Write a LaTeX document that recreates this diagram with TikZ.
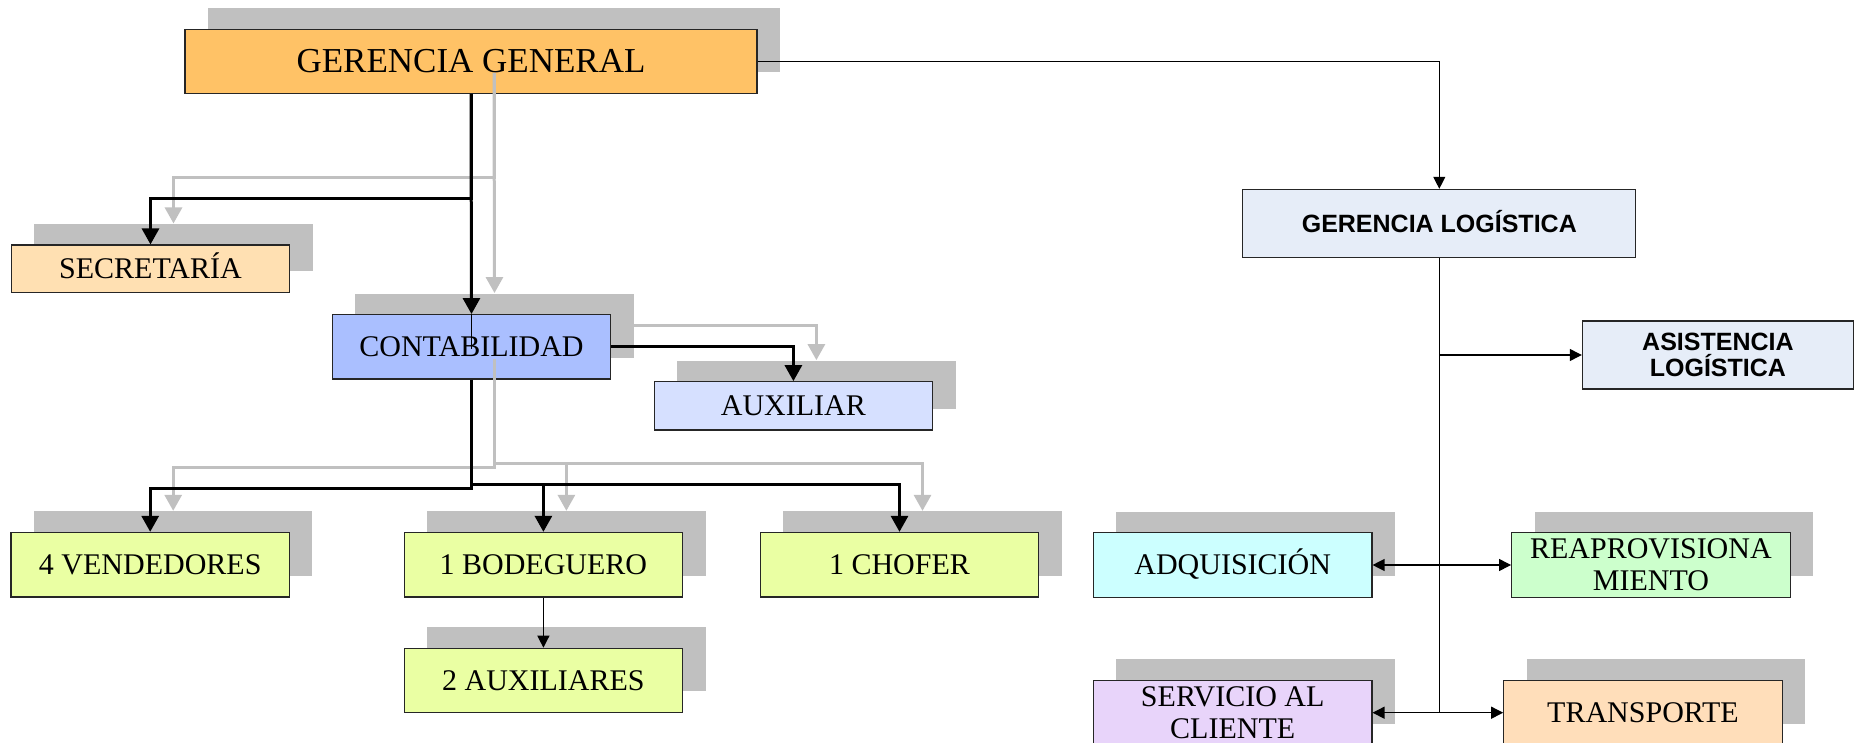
\documentclass[tikz,border=0pt]{standalone}
\usepackage{fontspec}
\setmainfont{Liberation Serif}
\setsansfont{Liberation Sans}
\usetikzlibrary{arrows.meta,shadows,calc}

\definecolor{ggfill}{RGB}{255,194,102}
\definecolor{secfill}{RGB}{255,224,178}
\definecolor{confill}{RGB}{170,191,255}
\definecolor{auxfill}{RGB}{214,224,255}
\definecolor{staffill}{RGB}{234,255,163}
\definecolor{logfill}{RGB}{230,237,248}
\definecolor{adqfill}{RGB}{204,255,255}
\definecolor{reafill}{RGB}{204,255,204}
\definecolor{serfill}{RGB}{232,212,250}
\definecolor{trafill}{RGB}{255,222,186}
\definecolor{shade}{RGB}{192,192,192}

\begin{document}
\begin{tikzpicture}[x=1pt,y=-1pt,
  unit/.style={draw=black!85, line width=1.2pt, inner sep=0pt,
    minimum width=278.5pt, minimum height=64.5pt, align=center,
    font=\fontsize{30}{32}\selectfont},
  oneline/.style={text height=19.9pt, text depth=0pt},
  shadowed/.style={general shadow={fill=shade, shadow xshift=23pt, shadow yshift=21pt}},
  logbox/.style={unit, fill=logfill, minimum height=68pt,
    font=\fontsize{25}{26.5}\selectfont\sffamily\bfseries},
  thickline/.style={line width=3pt, -{Triangle[length=16pt,width=17pt]}},
  shadowline/.style={line width=3pt, draw=shade, -{Triangle[length=16pt,width=17pt,fill=shade]}},
  thinline/.style={line width=1.2pt, -{Triangle[length=12pt,width=12pt]}},
  bothline/.style={line width=1.2pt, {Triangle[length=12pt,width=12pt]}-{Triangle[length=12pt,width=12pt]}},
  plainline/.style={line width=1.2pt}
]
\useasboundingbox (0,0) rectangle (1856,743);

% general management and staff units
\node[unit, shadowed, fill=ggfill, minimum width=572pt, minimum height=64pt,
  font=\fontsize{35}{38}\selectfont, text height=23.2pt, text depth=0pt]
  (gg) at (471,61.3) {GERENCIA GENERAL};
\node[unit, oneline, shadowed, fill=secfill, minimum height=47.3pt] (secr) at (150.5,268.7) {SECRETARÍA};
\node[unit, oneline, shadowed, fill=confill, minimum height=64.3pt] (contab) at (471.5,346.8) {CONTABILIDAD};
\node[unit, oneline, shadowed, fill=auxfill, minimum height=48.3pt] (aux) at (793.4,405.9) {AUXILIAR};
\node[unit, oneline, shadowed, fill=staffill] (vend) at (150.2,564.7) {4 VENDEDORES};
\node[unit, oneline, shadowed, fill=staffill] (bod) at (543.4,564.7) {1 BODEGUERO};
\node[unit, oneline, shadowed, fill=staffill] (chof) at (899.5,564.7) {1 CHOFER};
\node[unit, oneline, shadowed, fill=staffill, minimum height=64pt] (aux2) at (543.4,680.3) {2 AUXILIARES};

% logistics branch
\node[logbox, minimum width=393pt, text height=17.9pt, text depth=0pt] (gl) at (1439.3,223.4) {GERENCIA LOGÍSTICA};
\node[logbox, minimum width=271pt] (asist) at (1717.9,355) {ASISTENCIA\\LOGÍSTICA};
\node[unit, oneline, shadowed, fill=adqfill] (adq) at (1232.7,565) {ADQUISICIÓN};
\node[unit, shadowed, fill=reafill] (reap) at (1650.9,565) {REAPROVISIONA\\MIENTO};
\node[unit, shadowed, fill=serfill] (serv) at (1232.7,712.7) {SERVICIO AL\\CLIENTE};
\node[unit, oneline, shadowed, fill=trafill] (trans) at (1643,712.7) {TRANSPORTE};

% grey connector shadows, offset like the box shadows
\begin{scope}[transform canvas={xshift=23pt,yshift=21pt}]
  \draw[shadowline] (gg.south) -- ++(0,105) -| (secr.north);
  \draw[shadowline] (gg.south) -- (contab.north);
  \draw[shadowline] (contab.east) -| (aux.north);
  \draw[shadowline] (contab.south) -- ++(0,108.7) -| (vend.north);
  \draw[shadowline] (contab.south) ++(0,105) -| (chof.north);
  \draw[shadowline] (bod.north |- {$(contab.south)+(0,105)$}) -- (bod.north);
\end{scope}

% reporting lines
\draw[thickline] (gg.south) -- ++(0,105) -| (secr.north);
\draw[thickline] (gg.south) -- (contab.north);
\draw[line width=1pt] (contab.north) -- ++(0,35);
\draw[thickline] (contab.east) -| (aux.north);
\draw[thickline] (contab.south) -- ++(0,108.7) -| (vend.north);
\draw[thickline] (contab.south) ++(0,105) -| (chof.north);
\draw[thickline] (bod.north |- {$(contab.south)+(0,105)$}) -- (bod.north);
\draw[thinline] (bod.south) -- (aux2.north);

% logistics connectors
\draw[thinline] (gg.east) -| (gl.north);
\draw[plainline] (gl.south) -- (gl.south |- serv.east);
\draw[thinline] (gl.south |- asist.west) -- (asist.west);
\draw[bothline] (adq.east) -- (reap.west);
\draw[bothline] (serv.east) -- (trans.west);
\end{tikzpicture}
\end{document}
